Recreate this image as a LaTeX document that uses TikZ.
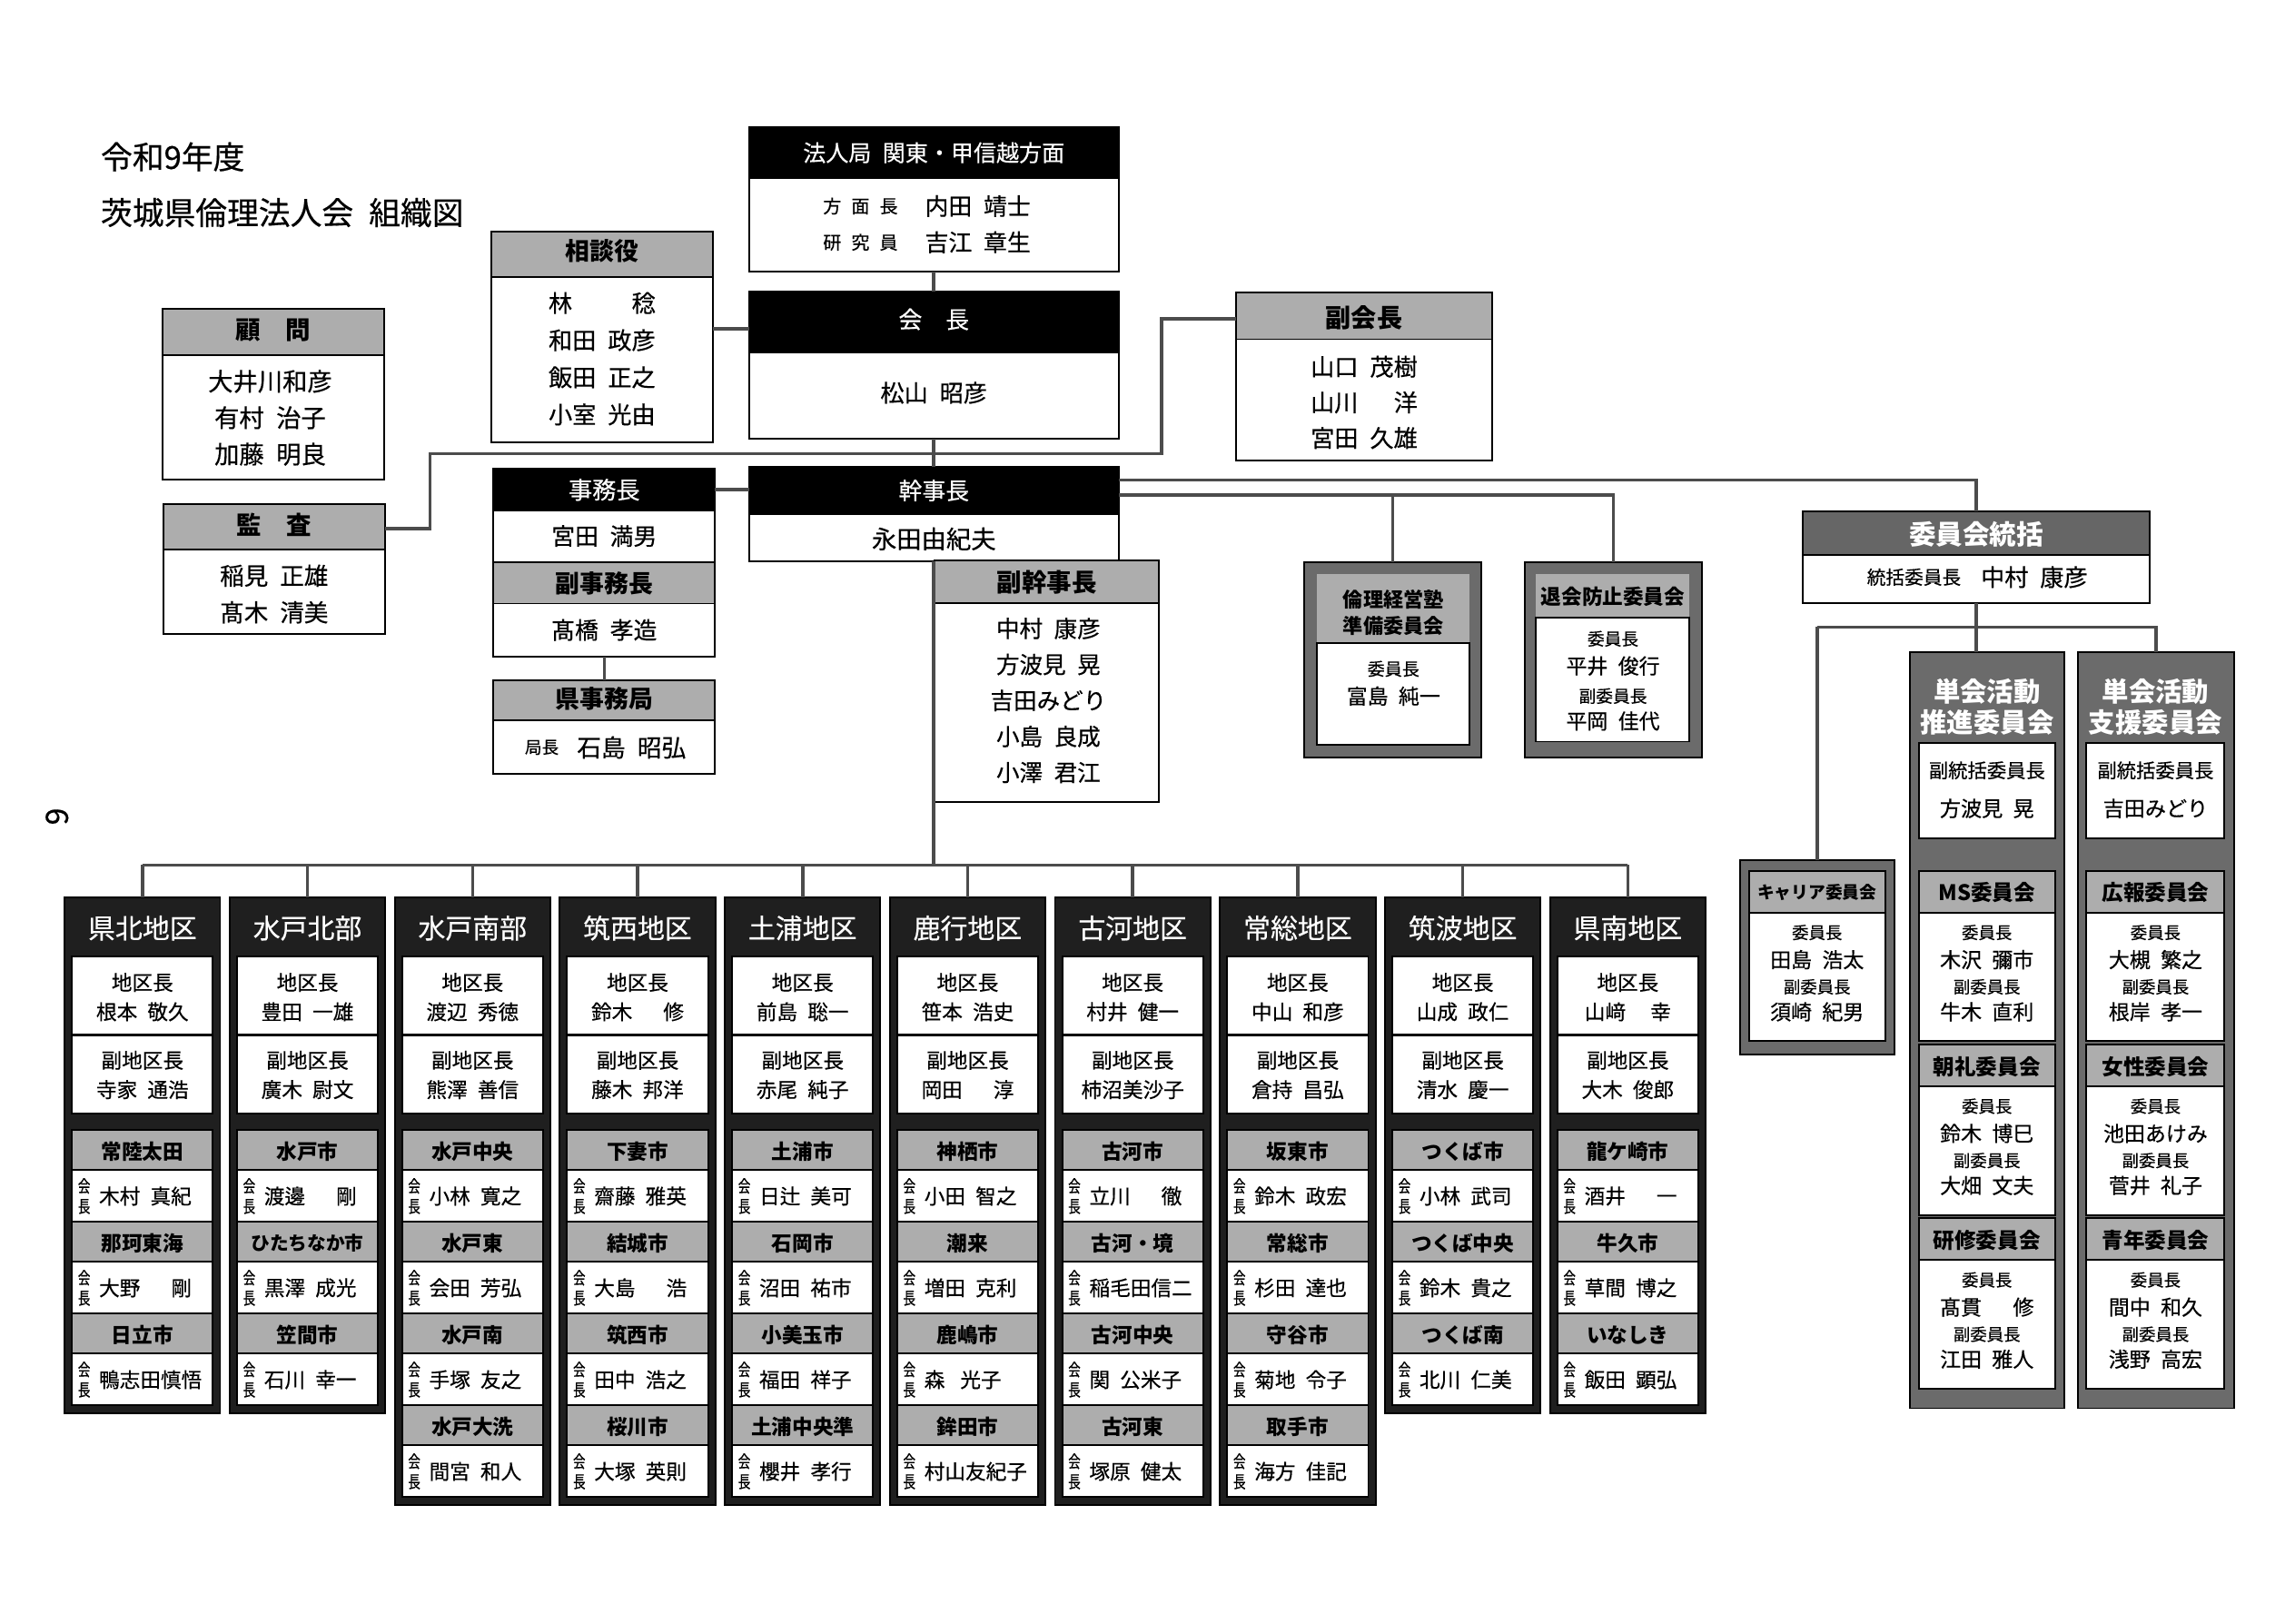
\documentclass[tikz,border=0pt]{standalone}
\usepackage{fontspec}
\setmainfont{Noto Sans CJK JP}[WordSpace=2.2, UprightFeatures={FakeBold=0.4}]
\usetikzlibrary{fit}
\newcommand{\fsz}[2]{\fontsize{#1pt}{#2pt}\selectfont}
\definecolor{hgray}{gray}{0.68}
\definecolor{cframe}{gray}{0.42}
\definecolor{tgray}{gray}{0.40}
\definecolor{dframe}{gray}{0.12}
\definecolor{lcol}{gray}{0.30}
\tikzset{
 bx/.style={inner sep=0pt, outer sep=0pt, draw=black, line width=0.6pt},
 wbox/.style={bx, fill=white},
 gbox/.style={bx, fill=hgray},
 kbox/.style={bx, fill=black},
 tbox/.style={bx, fill=tgray},
 cfr/.style={bx, fill=cframe},
 dbox/.style={bx, fill=dframe},
 lbox/.style={inner sep=0pt, outer sep=0pt, fill=hgray},
 txt/.style={inner sep=0pt, outer sep=0pt},
 conn/.style={draw=lcol, line width=1.1pt},
}
\newcommand{\dfont}{\fsz{7}{8}}
\newcommand{\dbfont}{\bfseries\fsz{7}{8}}
\newcommand{\cfont}{\fsz{7.1}{8}}
\newcommand{\cbfont}{\bfseries\fsz{7.3}{8}}
% district column
\newcommand{\district}[6]{%
 \pgfmathsetmacro{\dL}{44+112.4*#1}%
 \pgfmathsetmacro{\dR}{\dL+106}%
 \pgfmathsetmacro{\dC}{\dL+53}%
 \pgfmathsetmacro{\dB}{769.5+62.5*#2+5.5}%
 \node[dbox, fit={(\dL,611)(\dR,\dB)}] (d#1) {};
 \node[txt, text=white, font=\fsz{9.25}{10}] (d#1-t) at (\dC,632) {#3};
 \node[wbox, fit={(\dL+5,651)(\dR-5,704.5)}] (d#1-a) {};
 \node[txt, font=\dfont] (d#1-al) at (\dC,669) {地区長};
 \node[txt, font=\dfont] (d#1-an) at (\dC,689) {#4};
 \node[wbox, fit={(\dL+5,705)(\dR-5,758.5)}] (d#1-b) {};
 \node[txt, font=\dfont] (d#1-bl) at (\dC,722) {副地区長};
 \node[txt, font=\dfont] (d#1-bn) at (\dC,742) {#5};
 \foreach \cty/\nam [count=\k from 0] in {#6} {
  \pgfmathsetmacro{\dT}{769.5+62.5*\k}
  \node[gbox, fit={(\dL+5,\dT)(\dR-5,\dT+27)}] (d#1-s\k) {};
  \node[txt, font=\dbfont] (d#1-s\k-t) at (\dC,\dT+14.5) {\cty};
  \node[wbox, fit={(\dL+5,\dT+27)(\dR-5,\dT+62.5)}] (d#1-s\k-w) {};
  \node[txt, font=\fsz{5.8}{6.9}, align=center, xscale=0.72] (d#1-s\k-l) at (\dL+13.3,\dT+45) {会\\長};
  \node[txt, font=\dfont, anchor=west] (d#1-s\k-n) at (\dL+23.5,\dT+45) {\nam};
 }
}
% committee sub box
\newcommand{\csub}[7]{%
 \pgfmathsetmacro{\cC}{(#2+#3)/2}%
 \node[gbox, fit={(#2,#4)(#3,#4+28.5)}] (#1) {};
 \node[txt, font=\cbfont] (#1-t) at (\cC,#4+15) {#5};
 \node[wbox, fit={(#2,#4+28.5)(#3,#4+116)}] (#1-w) {};
 \node[txt, font=\fsz{5.7}{6}] (#1-l1) at (\cC,#4+42) {委員長};
 \node[txt, font=\cfont] (#1-n1) at (\cC,#4+60.5) {#6};
 \node[txt, font=\fsz{5.7}{6}] (#1-l2) at (\cC,#4+79) {副委員長};
 \node[txt, font=\cfont] (#1-n2) at (\cC,#4+96) {#7};
}
\begin{document}
\begin{tikzpicture}[x=0.5pt,y=-0.5pt]
\useasboundingbox (0,0) rectangle (1563,1105.3);
\fill[white] (0,0) rectangle (1563,1105.3);

% title
\node[txt, anchor=west, font=\fsz{10.75}{12}] (title1) at (68.7,106.8) {令和9年度};
\node[txt, anchor=west, font=\fsz{10.75}{12}] (title2) at (68.7,144.8) {茨城県倫理法人会 組織図};
\node[txt, rotate=-90, font=\fsz{10.5}{12}] (pageno) at (38.8,556) {6};

% 法人局
\node[wbox, fit={(510,86.5)(762,185)}] (hq) {};
\node[kbox, fit={(510,86.5)(762,121)}] (hq-h) {};
\node[txt, text=white, font=\fsz{7.75}{9}] (hq-t) at (636,104) {法人局 関東・甲信越方面};
\node[txt, font=\fsz{6.2}{7}] (hq-l1) at (586,140.3) {方\hspace{0.55em}面\hspace{0.55em}長};
\node[txt, font=\fsz{8}{9}, anchor=west] (hq-n1) at (630,140.3) {内田 靖士};
\node[txt, font=\fsz{6.2}{7}] (hq-l2) at (586,165) {研\hspace{0.55em}究\hspace{0.55em}員};
\node[txt, font=\fsz{8}{9}, anchor=west] (hq-n2) at (630,165) {吉江 章生};

% 会長
\node[wbox, fit={(510,198.8)(762,298.8)}] (pres) {};
\node[kbox, fit={(510,198.8)(762,240)}] (pres-h) {};
\node[txt, text=white, font=\fsz{8}{9}] (pres-t) at (636,217.5) {会　長};
\node[txt, font=\fsz{8.1}{9}] (pres-n) at (636,267.5) {松山 昭彦};

% 幹事長
\node[wbox, fit={(510,318)(762,382)}] (kanji) {};
\node[kbox, fit={(510,318)(762,350)}] (kanji-h) {};
\node[txt, text=white, font=\fsz{8}{9}] (kanji-t) at (636,334) {幹事長};
\node[txt, font=\fsz{8.45}{9}] (kanji-n) at (636,367) {永田由紀夫};

% 副会長
\node[wbox, fit={(842,199)(1016,313.6)}] (vp) {};
\node[gbox, fit={(842,199)(1016,231)}] (vp-h) {};
\node[txt, font=\bfseries\fsz{8.7}{9}] (vp-t) at (929,216.5) {副会長};
\node[txt, font=\fsz{8.1}{12.15}, align=center] (vp-n) at (929,274) {山口 茂樹\\山川\hspace{1.5em}洋\\宮田 久雄};

% 相談役
\node[wbox, fit={(334.6,157.7)(485.5,301.4)}] (sodan) {};
\node[gbox, fit={(334.6,157.7)(485.5,188.5)}] (sodan-h) {};
\node[txt, font=\bfseries\fsz{8.3}{9}] (sodan-t) at (410,171.2) {相談役};
\node[txt, font=\fsz{8.1}{12.65}, align=center] (sodan-n) at (410,244.3) {林\hspace{2.5em}稔\\和田 政彦\\飯田 正之\\小室 光由};

% 顧問
\node[wbox, fit={(110.6,210.5)(261.5,326.5)}] (komon) {};
\node[gbox, fit={(110.6,210.5)(261.5,241.8)}] (komon-h) {};
\node[txt, font=\bfseries\fsz{8.5}{9}] (komon-t) at (186,225) {顧　問};
\node[txt, font=\fsz{8.45}{12.4}, align=center] (komon-n) at (184,284.5) {大井川和彦\\有村 治子\\加藤 明良};

% 監査
\node[wbox, fit={(111.3,343.5)(262.2,432)}] (kansa) {};
\node[gbox, fit={(111.3,343.5)(262.2,374.3)}] (kansa-h) {};
\node[txt, font=\bfseries\fsz{8.5}{9}] (kansa-t) at (186.7,357.7) {監　査};
\node[txt, font=\fsz{8.2}{12.5}, align=center] (kansa-n) at (186.7,404.5) {稲見 正雄\\髙木 清美};

% 事務長 group
\node[wbox, fit={(336,319)(487,447)}] (jim) {};
\node[kbox, fit={(336,319)(487,347.6)}] (jim-h) {};
\node[txt, text=white, font=\fsz{8.1}{9}] (jim-t) at (411.5,333.5) {事務長};
\node[txt, font=\fsz{8}{9}] (jim-n) at (411.5,365) {宮田 満男};
\node[gbox, fit={(336,383)(487,411)}] (fjim-h) {};
\node[txt, font=\bfseries\fsz{8.3}{9}] (fjim-t) at (411.5,397) {副事務長};
\node[txt, font=\fsz{8}{9}] (fjim-n) at (411.5,429) {髙橋 孝造};

% 県事務局
\node[wbox, fit={(336,463)(487,527)}] (kjim) {};
\node[gbox, fit={(336,463)(487,490.6)}] (kjim-h) {};
\node[txt, font=\bfseries\fsz{8.3}{9}] (kjim-t) at (411.5,476) {県事務局};
\node[txt, font=\fsz{5.75}{7}] (kjim-l) at (369,509) {局長};
\node[txt, font=\fsz{8.25}{9}, anchor=west] (kjim-n) at (393,509) {石島 昭弘};

% 副幹事長
\node[wbox, fit={(636.5,381.7)(789.5,546)}] (fkanji) {};
\node[gbox, fit={(636.5,381.7)(789.5,410.6)}] (fkanji-h) {};
\node[txt, font=\bfseries\fsz{8.5}{9}] (fkanji-t) at (713,396.5) {副幹事長};
\node[txt, font=\fsz{7.9}{12.25}, align=center] (fkanji-n) at (714,477) {中村 康彦\\方波見 晃\\吉田みどり\\小島 良成\\小澤 君江};

% 委員会統括
\node[wbox, fit={(1228,348)(1464,410.7)}] (tokatsu) {};
\node[tbox, fit={(1228,348)(1464,378)}] (tokatsu-h) {};
\node[txt, text=white, font=\bfseries\fsz{9.15}{10}] (tokatsu-t) at (1346,364) {委員会統括};
\node[txt, font=\fsz{6.4}{7}] (tokatsu-l) at (1303.5,393) {統括委員長};
\node[txt, font=\fsz{8.1}{9}, anchor=west] (tokatsu-n) at (1349,393) {中村 康彦};

% 倫理経営塾準備委員会
\node[cfr, fit={(888,383)(1009,516)}] (rinri) {};
\node[lbox, fit={(897,390.7)(1001,438)}] (rinri-h) {};
\node[txt, font=\bfseries\fsz{6.85}{9}, align=center] (rinri-t) at (949,417) {倫理経営塾\\準備委員会};
\node[wbox, fit={(897,438)(1001,507)}] (rinri-w) {};
\node[txt, font=\fsz{5.9}{7}] (rinri-l) at (949,455.5) {委員長};
\node[txt, font=\fsz{7.1}{8}] (rinri-n) at (949,474) {富島 純一};

% 退会防止委員会
\node[cfr, fit={(1038.6,383)(1159,516)}] (taikai) {};
\node[lbox, fit={(1046,390.7)(1150.5,420.6)}] (taikai-h) {};
\node[txt, font=\bfseries\fsz{7}{8}] (taikai-t) at (1098.5,406) {退会防止委員会};
\node[wbox, fit={(1046,420.6)(1150.5,505)}] (taikai-w) {};
\node[txt, font=\fsz{5.8}{7}] (taikai-l1) at (1098.5,435) {委員長};
\node[txt, font=\fsz{7.1}{8}] (taikai-n1) at (1098.5,453.5) {平井 俊行};
\node[txt, font=\fsz{5.8}{7}] (taikai-l2) at (1098.5,474) {副委員長};
\node[txt, font=\fsz{7.1}{8}] (taikai-n2) at (1098.5,491) {平岡 佳代};

% キャリア委員会
\node[cfr, fit={(1185,586)(1290,718)}] (career) {};
\csub{career-in}{1191}{1284}{593}{\fsz{5.8}{6}キャリア委員会}{田島 浩太}{須崎 紀男}

% 単会活動推進委員会
\node[cfr, fit={(1300.6,444)(1406,959)}] (suishin) {};
\node[txt, text=white, align=center, font=\bfseries\fsz{9.1}{10.5}] (suishin-t) at (1353.3,481.5) {単会活動\\推進委員会};
\node[wbox, fit={(1306.8,506)(1399.5,571)}] (suishin-w) {};
\node[txt, font=\fsz{6.6}{7}] (suishin-l) at (1353.2,524.6) {副統括委員長};
\node[txt, font=\fsz{7.15}{8}] (suishin-n) at (1353.2,550.5) {方波見 晃};
\csub{ms}{1306.8}{1399.5}{593}{MS委員会}{木沢 彌市}{牛木 直利}
\csub{chorei}{1306.8}{1399.5}{711.3}{朝礼委員会}{鈴木 博巳}{大畑 文夫}
\csub{kenshu}{1306.8}{1399.5}{829.6}{研修委員会}{髙貫\hspace{1.5em}修}{江田 雅人}

% 単会活動支援委員会
\node[cfr, fit={(1415,444)(1521.6,959)}] (shien) {};
\node[txt, text=white, align=center, font=\bfseries\fsz{9.1}{10.5}] (shien-t) at (1468,481.5) {単会活動\\支援委員会};
\node[wbox, fit={(1421,506)(1515,571)}] (shien-w) {};
\node[txt, font=\fsz{6.6}{7}] (shien-l) at (1468,524.6) {副統括委員長};
\node[txt, font=\fsz{7.15}{8}] (shien-n) at (1468,550.5) {吉田みどり};
\csub{koho}{1421}{1515}{593}{広報委員会}{大槻 繁之}{根岸 孝一}
\csub{josei}{1421}{1515}{711.3}{女性委員会}{池田あけみ}{菅井 礼子}
\csub{seinen}{1421}{1515}{829.6}{青年委員会}{間中 和久}{浅野 高宏}

% districts
\district{0}{3}{県北地区}{根本 敬久}{寺家 通浩}{常陸太田/木村 真紀, 那珂東海/大野\hspace{1.5em}剛, 日立市/鴨志田慎悟}
\district{1}{3}{水戸北部}{豊田 一雄}{廣木 尉文}{水戸市/渡邊\hspace{1.5em}剛, {\fsz{6.4}{7}ひたちなか市}/黒澤 成光, 笠間市/石川 幸一}
\district{2}{4}{水戸南部}{渡辺 秀徳}{熊澤 善信}{水戸中央/小林 寛之, 水戸東/会田 芳弘, 水戸南/手塚 友之, 水戸大洗/間宮 和人}
\district{3}{4}{筑西地区}{鈴木\hspace{1.5em}修}{藤木 邦洋}{下妻市/齋藤 雅英, 結城市/大島\hspace{1.5em}浩, 筑西市/田中 浩之, 桜川市/大塚 英則}
\district{4}{4}{土浦地区}{前島 聡一}{赤尾 純子}{土浦市/日辻 美可, 石岡市/沼田 祐市, 小美玉市/福田 祥子, 土浦中央準/櫻井 孝行}
\district{5}{4}{鹿行地区}{笹本 浩史}{岡田\hspace{1.5em}淳}{神栖市/小田 智之, 潮来/増田 克利, 鹿嶋市/森\hspace{0.75em}光子, 鉾田市/村山友紀子}
\district{6}{4}{古河地区}{村井 健一}{柿沼美沙子}{古河市/立川\hspace{1.5em}徹, 古河・境/稲毛田信二, 古河中央/関 公米子, 古河東/塚原 健太}
\district{7}{4}{常総地区}{中山 和彦}{倉持 昌弘}{坂東市/鈴木 政宏, 常総市/杉田 達也, 守谷市/菊地 令子, 取手市/海方 佳記}
\district{8}{3}{筑波地区}{山成 政仁}{清水 慶一}{つくば市/小林 武司, つくば中央/鈴木 貴之, つくば南/北川 仁美}
\district{9}{3}{県南地区}{山﨑\hspace{1.2em}幸}{大木 俊郎}{龍ケ崎市/酒井\hspace{1.5em}一, 牛久市/草間 博之, いなしき/飯田 顕弘}

% connectors
\draw[conn] (hq.south) -- (pres.north);
\draw[conn] (pres.south) -- (kanji.north);
\draw[conn] (sodan.east |- 0,224) -- (pres.west |- 0,224);
\draw[conn] (jim.east |- 0,333.5) -- (kanji.west |- 0,333.5);
\draw[conn] (vp.west |- 0,217) -- (791,217) -- (791,309) -- (293,309) -- (293,360) -- (kansa.east |- 0,360);
\draw[conn] (jim.south) -- (kjim.north);
\draw[conn] (kanji.south) -- (kanji.south |- 0,589);
\draw[conn] (d0.north |- 0,589) -- (d9.north |- 0,589);
\foreach \i in {0,...,9} \draw[conn] (d\i.north |- 0,589) -- (d\i.north);
\draw[conn] (kanji.east |- 0,327) -- (tokatsu.north |- 0,327) -- (tokatsu.north);
\draw[conn] (kanji.east |- 0,337) -- (taikai.north |- 0,337) -- (taikai.north);
\draw[conn] (rinri.north |- 0,337) -- (rinri.north);
\draw[conn] (tokatsu.south) -- (tokatsu.south |- suishin.north);
\draw[conn] (career.north |- 0,427) -- (shien.north |- 0,427) -- (shien.north);
\draw[conn] (career.north |- 0,427) -- (career.north);
\end{tikzpicture}
\end{document}
